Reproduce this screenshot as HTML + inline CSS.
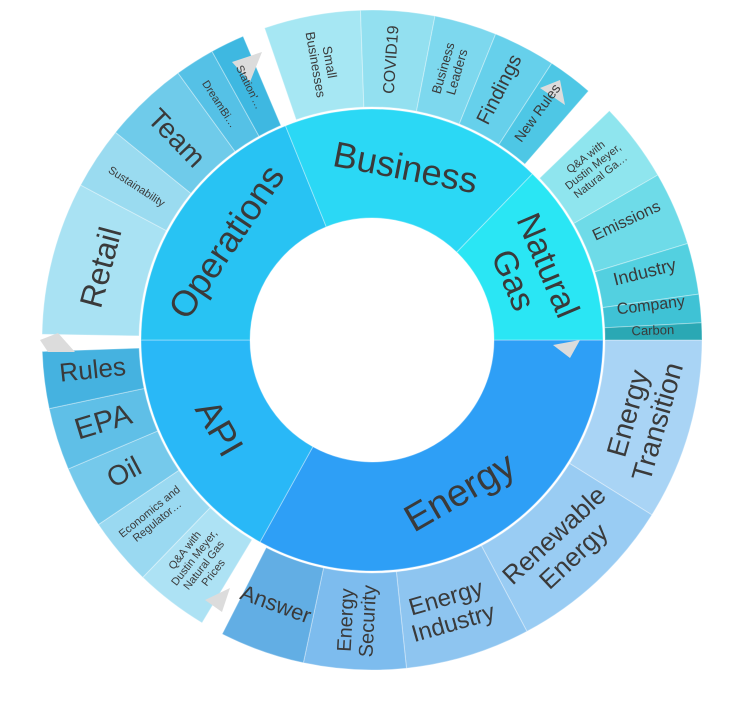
<!DOCTYPE html>
<html><head><meta charset="utf-8"><style>
html,body{margin:0;padding:0;background:#fff;width:754px;height:704px;overflow:hidden}
svg text{font-family:"Liberation Sans",sans-serif;fill:#3a3a3a;text-anchor:middle;dominant-baseline:central}
</style></head><body>
<svg id="s" width="754" height="704" viewBox="0 0 754 704">
<g id="segs"></g>
<g fill="#dcdcdc">
<polygon points="232,62 262,52 250,82"/>
<polygon points="40,340 58,333 75,352 48,352"/>
<polygon points="553,345 580,340 570,358"/>
<polygon points="205,600 230,588 222,612"/>
<polygon points="540,88 560,80 565,105"/>
</g>
<g transform="translate(372,340)">
<!-- inner labels -->
<g transform="rotate(60) translate(176,0) rotate(-90)"><text font-size="38">Energy</text></g>
<g transform="rotate(150) translate(176,0) rotate(-90)"><text font-size="36">API</text></g>
<g transform="rotate(214) translate(176,0) rotate(90)"><text font-size="36">Operations</text></g>
<g transform="rotate(281) translate(176,0) rotate(90)"><text font-size="36">Business</text></g>
<g transform="rotate(337) translate(172,0) rotate(90)"><text font-size="34"><tspan x="0" dy="-0.55em">Natural</tspan><tspan x="0" dy="1.1em">Gas</tspan></text></g>
<!-- energy children -->
<g transform="rotate(16) translate(281,0) rotate(-90)"><text font-size="28"><tspan x="0" dy="-0.55em">Energy</tspan><tspan x="0" dy="1.1em">Transition</tspan></text></g>
<g transform="rotate(47) translate(281,0) rotate(-90)"><text font-size="26"><tspan x="0" dy="-0.55em">Renewable</tspan><tspan x="0" dy="1.1em">Energy</tspan></text></g>
<g transform="rotate(74) translate(281,0) rotate(-90)"><text font-size="24"><tspan x="0" dy="-0.55em">Energy</tspan><tspan x="0" dy="1.1em">Industry</tspan></text></g>
<g transform="rotate(93) translate(281,0) rotate(180)"><text font-size="20"><tspan x="0" dy="-0.55em">Energy</tspan><tspan x="0" dy="1.1em">Security</tspan></text></g>
<g transform="rotate(110) translate(281,0) rotate(-90)"><text font-size="22">Answer</text></g>
<!-- API children -->
<g transform="rotate(128) translate(281,0) rotate(180)"><text font-size="11"><tspan x="0" dy="-1.6em">Q&amp;A with</tspan><tspan x="0" dy="1.1em">Dustin Meyer,</tspan><tspan x="0" dy="1.1em">Natural Gas</tspan><tspan x="0" dy="1.1em">Prices</tspan></text></g>
<g transform="rotate(141) translate(281,0) rotate(180)"><text font-size="11"><tspan x="0" dy="-0.55em">Economics and</tspan><tspan x="0" dy="1.1em">Regulator…</tspan></text></g>
<g transform="rotate(152) translate(281,0) rotate(180)"><text font-size="28">Oil</text></g>
<g transform="rotate(163) translate(281,0) rotate(180)"><text font-size="30">EPA</text></g>
<g transform="rotate(174) translate(281,0) rotate(180)"><text font-size="26">Rules</text></g>
<!-- Operations children -->
<g transform="rotate(195) translate(281,0) rotate(90)"><text font-size="32">Retail</text></g>
<g transform="rotate(213) translate(281,0) rotate(180)"><text font-size="11">Sustainability</text></g>
<g transform="rotate(226) translate(281,0) rotate(180)"><text font-size="28">Team</text></g>
<g transform="rotate(237) translate(281,0) rotate(180)"><text font-size="11">DreamBi…</text></g>
<g transform="rotate(244) translate(281,0) rotate(180)"><text font-size="11">Station'…</text></g>
<!-- Business children -->
<g transform="rotate(260) translate(281,0) rotate(180)"><text font-size="13"><tspan x="0" dy="-0.55em">Small</tspan><tspan x="0" dy="1.1em">Businesses</tspan></text></g>
<g transform="rotate(274) translate(281,0)"><text font-size="16">COVID19</text></g>
<g transform="rotate(286) translate(281,0)"><text font-size="13"><tspan x="0" dy="-0.55em">Business</tspan><tspan x="0" dy="1.1em">Leaders</tspan></text></g>
<g transform="rotate(297) translate(281,0)"><text font-size="20">Findings</text></g>
<g transform="rotate(306) translate(281,0)"><text font-size="14">New Rules</text></g>
<!-- Natural gas children -->
<g transform="rotate(322) translate(281,0)"><text font-size="11"><tspan x="0" dy="-1.1em">Q&amp;A with</tspan><tspan x="0" dy="1.1em">Dustin Meyer,</tspan><tspan x="0" dy="1.1em">Natural Ga…</tspan></text></g>
<g transform="rotate(335) translate(281,0)"><text font-size="16">Emissions</text></g>
<g transform="rotate(346) translate(281,0)"><text font-size="18">Industry</text></g>
<g transform="rotate(353) translate(281,0)"><text font-size="16">Company</text></g>
<g transform="rotate(358) translate(281,0)"><text font-size="13">Carbon</text></g>
</g>
</svg>
<script>
var cx=372,cy=340;
function arc(a0,a1,r0,r1){
 var t0=a0*Math.PI/180,t1=a1*Math.PI/180,l=(a1-a0)>180?1:0;
 function p(r,t){return (cx+r*Math.cos(t)).toFixed(2)+","+(cy+r*Math.sin(t)).toFixed(2);}
 return "M"+p(r1,t0)+"A"+r1+","+r1+" 0 "+l+" 1 "+p(r1,t1)+"L"+p(r0,t1)+"A"+r0+","+r0+" 0 "+l+" 0 "+p(r0,t0)+"Z";
}
var segs=[
[0,119,122,231,"#2e9ff6"],[119,180,122,231,"#29b8f7"],[180,248,122,231,"#28c3f3"],[248,314,122,231,"#2bd8f5"],[314,360,122,231,"#2ae6f4"],
[0,32,233,330,"#a9d4f5"],[32,62,233,330,"#99ccf3"],[62,84,233,330,"#8ec5f0"],[84,102,233,330,"#7dbcee"],[102,117,233,330,"#62aee4"],
[121,134,233,330,"#ade2f4"],[134,146,233,330,"#9ad9f1"],[146,157,233,330,"#75c9eb"],[157,168,233,330,"#5fbfe7"],[168,178,233,330,"#45b2e0"],
[181,208,233,330,"#a9e2f3"],[208,219,233,330,"#9adbf0"],[219,234,233,330,"#6fcbea"],[234,241,233,330,"#55c1e6"],[241,247,233,330,"#3eb8e1"],
[251,268,233,330,"#a6e7f3"],[268,281,233,330,"#93e0f0"],[281,292,233,330,"#7dd8ee"],[292,303,233,330,"#66d0eb"],[303,311,233,330,"#4ec7e5"],
[316,330,233,330,"#8fe5ee"],[330,343,233,330,"#6edbe8"],[343,352,233,330,"#53d0e0"],[352,357,233,330,"#3fc2d5"],[357,360,233,330,"#2aa8b4"]
];
var g=document.getElementById("segs"),h="";
segs.forEach(function(s){h+='<path d="'+arc(s[0],s[1],s[2],s[3])+'" fill="'+s[4]+'" stroke="#fff" stroke-opacity="0.35" stroke-width="1"/>';});
g.innerHTML=h;
</script>
</body></html>
